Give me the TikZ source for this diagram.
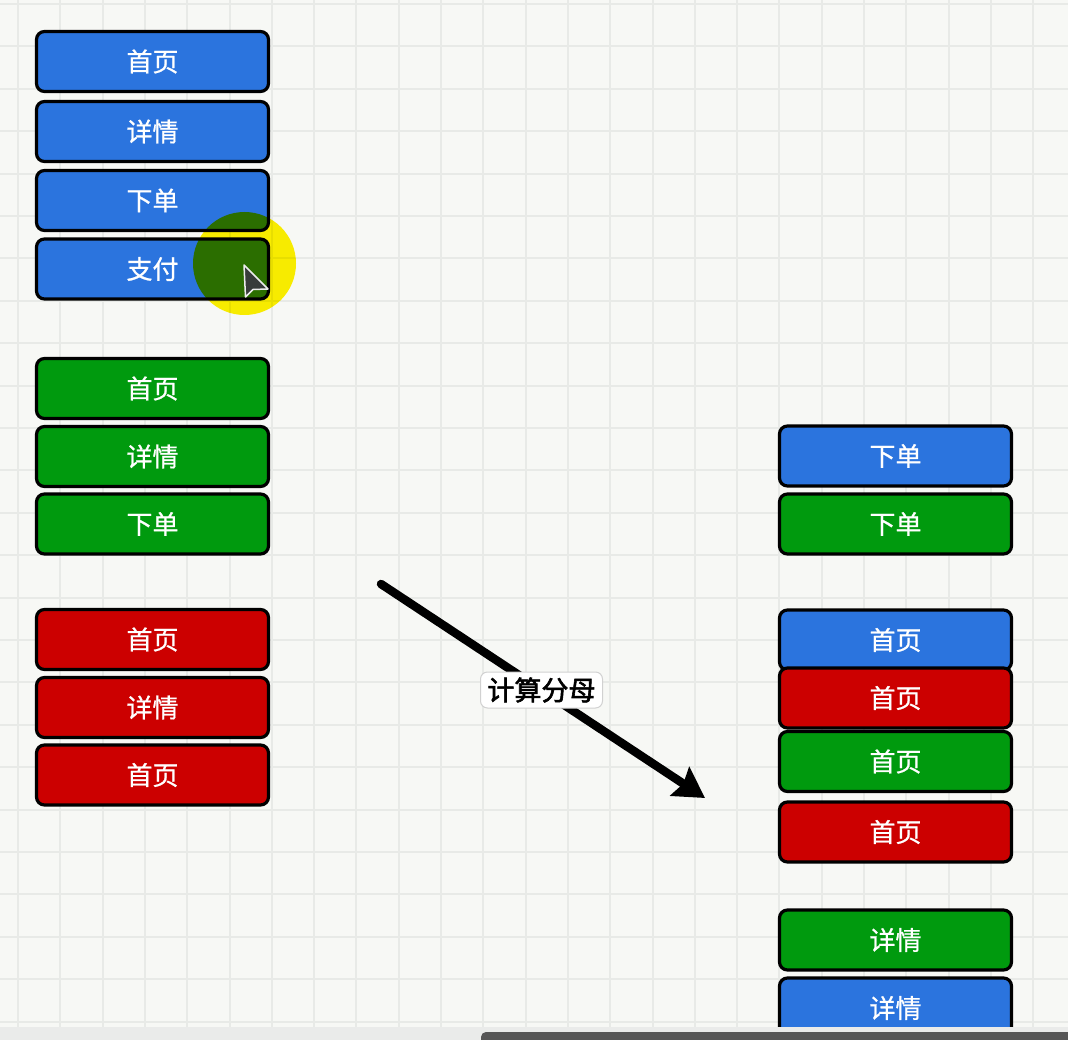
\documentclass[tikz,border=0pt]{standalone}
\usepackage{fontspec}
\newfontfamily\cjk{Noto Sans CJK SC}[FakeBold=0.8]
\newfontfamily\cjktag{Noto Sans CJK SC}[FakeBold=2.2]
\usetikzlibrary{arrows.meta}

\definecolor{canvas}{HTML}{F7F8F5}
\definecolor{gridline}{HTML}{E8EAE7}
\definecolor{pblue}{HTML}{2B74DE}
\definecolor{pgreen}{HTML}{009A0E}
\definecolor{pred}{HTML}{CC0000}
\definecolor{strip}{HTML}{EAEBEA}
\definecolor{scrollbar}{HTML}{565656}
\definecolor{pointer}{HTML}{383C3A}

\tikzset{
  page/.style={draw=black, line width=3.2pt, rounded corners=8pt,
    minimum width=232pt, minimum height=60pt, inner sep=0pt,
    text=white, font=\cjk\fontsize{26}{26}\selectfont},
  bluepage/.style={page, fill=pblue},
  greenpage/.style={page, fill=pgreen},
  redpage/.style={page, fill=pred},
  tag/.style={fill=white, draw=black!18, line width=1pt, rounded corners=7pt,
    minimum width=122pt, minimum height=36pt, inner sep=0pt,
    text=black, font=\cjktag\fontsize{27}{27}\selectfont},
  flow/.style={draw=black, line width=8.5pt, line cap=round,
    -{Stealth[length=30pt, width=34pt, inset=4pt]}}
}

\begin{document}
\begin{tikzpicture}[x=1pt, y=-1pt]
  \useasboundingbox (0,0) rectangle (1068,1040);

  % canvas with grid
  \fill[canvas] (0,0) rectangle (1068,1040);
  \foreach \i in {0,...,25}
    \draw[gridline, line width=2pt] ({18+42.3*\i},0) -- ({18+42.3*\i},1027);
  \foreach \j in {0,...,24}
    \draw[gridline, line width=2pt] (0,{4+42.4*\j}) -- (1068,{4+42.4*\j});

  % first session (blue)
  \node[bluepage] (b1) at (152.5,61.5)  {首页};
  \node[bluepage] (b2) at (152.5,131.5) {详情};
  \node[bluepage] (b3) at (152.5,200.5) {下单};
  \node[bluepage] (b4) at (152.5,269)   {支付};

  % second session (green)
  \node[greenpage] (g1) at (152.5,388.5) {首页};
  \node[greenpage] (g2) at (152.5,456.5) {详情};
  \node[greenpage] (g3) at (152.5,524)   {下单};

  % third session (red)
  \node[redpage] (r1) at (152.5,639.5) {首页};
  \node[redpage] (r2) at (152.5,707.5) {详情};
  \node[redpage] (r3) at (152.5,775)   {首页};

  % grouped pages
  \node[bluepage]  (o1) at (895.5,456) {下单};
  \node[greenpage] (o2) at (895.5,524) {下单};

  \node[bluepage]  (h1) at (895.5,640) {首页};
  \node[redpage]   (h2) at (895.5,698) {首页};
  \node[greenpage] (h3) at (895.5,761.5) {首页};
  \node[redpage]   (h4) at (895.5,832) {首页};

  \node[greenpage] (d1) at (895.5,940)  {详情};
  \node[bluepage]  (d2) at (895.5,1008) {详情};

  % transformation arrow
  \coordinate (from) at (381,584);
  \coordinate (to)   at (705,798);
  \draw[flow] (from) -- (to);
  \node[tag] (lbl) at (541.5,690) {计算分母};

  % bottom bar
  \fill[strip] (0,1027) rectangle (1068,1040);
  \fill[scrollbar, rounded corners=5pt] (481,1032) rectangle (1080,1050);

  % pointer highlight
  \begin{scope}[blend mode=multiply]
    \fill[yellow] (244.5,263.5) circle (51.5);
  \end{scope}
  \filldraw[fill=pointer, draw=white!85!gray, line width=1.5pt, line join=round]
    (244,265) -- (245.5,297) -- (253,289.5) -- (268,289) -- cycle;
\end{tikzpicture}
\end{document}
